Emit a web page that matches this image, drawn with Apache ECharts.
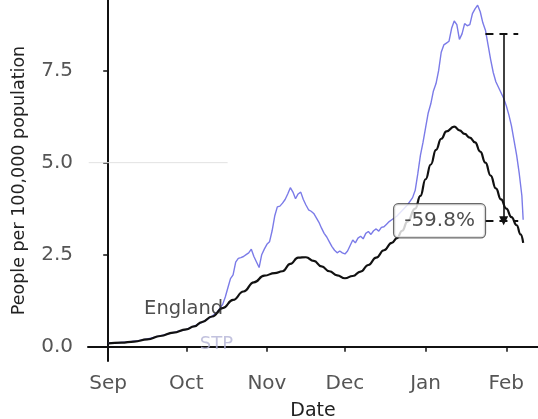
<!DOCTYPE html>
<html>
<head>
<meta charset="utf-8">
<script src="https://cdn.jsdelivr.net/npm/echarts@6/dist/echarts.min.js"></script>
<style>
html,body{margin:0;padding:0;background:#fff;}
#c{width:538px;height:419px;}
</style>
</head>
<body>
<div id="c"></div>
<script>
// Days counted from 1 September
const tickDays = [0, 30, 61, 91, 122, 153];
const tickLabels = ['Sep', 'Oct', 'Nov', 'Dec', 'Jan', 'Feb'];
const yTicks = [0, 2.5, 5, 7.5];

const englandDays = [0, 5, 10, 15, 20, 25, 30, 33, 36, 40, 44, 48, 52, 56, 60, 64, 67, 70, 73, 76, 79, 82, 85, 88, 91, 94, 97, 100, 103, 106, 109, 111, 113, 115, 118, 120, 122, 124, 126, 128, 130, 133, 135, 137, 139, 141, 143, 145, 147, 149, 151, 153, 155, 157, 158.5, 159.5];
const englandValues = [0.09, 0.11, 0.14, 0.2, 0.29, 0.38, 0.47, 0.55, 0.67, 0.82, 1.05, 1.27, 1.5, 1.75, 1.93, 2.0, 2.05, 2.25, 2.42, 2.43, 2.33, 2.18, 2.05, 1.94, 1.86, 1.92, 2.04, 2.22, 2.42, 2.62, 2.82, 2.95, 3.15, 3.4, 3.75, 4.1, 4.55, 4.95, 5.35, 5.65, 5.85, 5.98, 5.88, 5.78, 5.68, 5.55, 5.3, 5.0, 4.65, 4.3, 4.0, 3.75, 3.52, 3.3, 3.05, 2.82];

const stpDays = [0, 3, 6, 9, 12, 15, 18, 21, 24, 27, 30, 33, 36, 39, 42, 44, 45, 46, 47, 48, 49, 50, 51, 52, 53, 54, 55, 56, 57, 58, 59, 60, 61, 62, 63, 64, 65, 66, 67, 68, 69, 70, 71, 72, 73, 74, 75, 76, 77, 78, 79, 80, 81, 82, 83, 84, 85, 86, 87, 88, 89, 90, 91, 92, 93, 94, 95, 96, 97, 98, 99, 100, 101, 102, 103, 104, 105, 106, 107, 108, 109, 111, 113, 115, 117, 118, 119, 120, 121, 122, 123, 124, 125, 126, 127, 128, 129, 130, 131, 132, 133, 134, 135, 136, 137, 138, 139, 140, 141, 142, 143, 144, 145, 146, 147, 148, 149, 150, 151, 152, 153, 154, 155, 156, 157, 158, 159, 159.5];
const stpValues = [0.10, 0.10, 0.12, 0.14, 0.17, 0.21, 0.26, 0.31, 0.36, 0.42, 0.47, 0.56, 0.66, 0.78, 0.95, 1.15, 1.35, 1.6, 1.85, 1.95, 2.3, 2.4, 2.42, 2.45, 2.5, 2.55, 2.65, 2.45, 2.3, 2.15, 2.5, 2.65, 2.78, 2.85, 3.15, 3.55, 3.8, 3.82, 3.9, 4.0, 4.15, 4.32, 4.2, 4.02, 4.15, 4.2, 4.0, 3.85, 3.72, 3.68, 3.62, 3.5, 3.38, 3.22, 3.08, 2.98, 2.85, 2.72, 2.62, 2.55, 2.6, 2.55, 2.52, 2.6, 2.75, 2.9, 2.82, 2.95, 3.0, 2.93, 3.08, 3.13, 3.05, 3.15, 3.2, 3.14, 3.24, 3.26, 3.33, 3.4, 3.45, 3.55, 3.7, 3.85, 4.05, 4.25, 4.7, 5.2, 5.55, 5.95, 6.35, 6.6, 6.95, 7.15, 7.5, 8.0, 8.2, 8.25, 8.3, 8.65, 8.85, 8.75, 8.35, 8.5, 8.78, 8.72, 8.75, 9.05, 9.18, 9.28, 9.1, 8.8, 8.6, 8.2, 7.8, 7.45, 7.2, 7.05, 6.9, 6.75, 6.55, 6.3, 6.0, 5.6, 5.2, 4.7, 4.1, 3.45];

// Annotation (data space)
const peakValue = 8.5;
const endValue = 3.42;
const arrowDay = 152;
const dashDays = [145, 157.6];
const labelDay = 144.8;
const changeText = (((endValue - peakValue) / peakValue) * 100).toFixed(1) + '%';

// Series name labels (data space)
const englandLabelPos = [29, 1.02];
const stpLabelPos = [41.6, 0.07];

// faint line at 5.0
const faintLineDays = [-7.5, 45.9];
const faintLineValue = 5.0;

const FONT = 'DejaVu Sans';
const chart = echarts.init(document.getElementById('c'), null, {renderer: 'canvas'});

const zip = (xs, ys) => xs.map((x, i) => [x, ys[i]]);

chart.setOption({
  animation: false,
  backgroundColor: '#ffffff',
  grid: {left: 88, right: 0, top: 0, bottom: 58, containLabel: false, outerBoundsMode: 'none'},
  xAxis: {
    type: 'value',
    min: -7.77,
    max: 165.2,
    name: 'Date',
    nameLocation: 'middle',
    nameGap: 41,
    nameTextStyle: {fontFamily: FONT, fontSize: 19, color: '#222'},
    axisLine: {show: true, lineStyle: {color: '#111', width: 2}},
    axisTick: {show: true, customValues: tickDays, length: 5, lineStyle: {color: '#111', width: 1.5}},
    axisLabel: {
      customValues: tickDays,
      margin: 13,
      fontFamily: FONT, fontSize: 20, color: '#555',
      formatter: v => tickLabels[tickDays.indexOf(v)] || ''
    },
    splitLine: {show: false}
  },
  yAxis: {
    type: 'value',
    min: -0.389,
    max: 9.42,
    name: 'People per 100,000 population',
    nameLocation: 'middle',
    nameGap: 60,
    nameRotate: 90,
    nameTextStyle: {fontFamily: FONT, fontSize: 17.5, color: '#222'},
    axisLine: {show: true, lineStyle: {color: '#111', width: 2}},
    axisTick: {show: true, customValues: yTicks, length: 5, lineStyle: {color: '#111', width: 1.5}},
    axisLabel: {
      customValues: yTicks,
      margin: 15,
      fontFamily: FONT, fontSize: 20, color: '#555',
      formatter: v => v.toFixed(1)
    },
    splitLine: {show: false}
  },
  series: [
    {
      name: 'faint', type: 'line', silent: true, symbol: 'none',
      data: faintLineDays.map(d => [d, faintLineValue]),
      lineStyle: {color: '#e2e2e2', width: 1}, z: 1
    },
    {
      name: 'STP', type: 'line', symbol: 'none', smooth: false,
      data: zip(stpDays, stpValues),
      lineStyle: {color: '#7b7be8', width: 1.4}, z: 2
    },
    {
      name: 'England', type: 'line', symbol: 'none', smooth: true, smoothMonotone: 'x',
      data: zip(englandDays, englandValues),
      lineStyle: {color: '#111111', width: 2.2}, z: 3
    },
    {
      name: 'annot', type: 'line', symbol: 'none', silent: true, data: [], z: 4,
      markLine: {
        silent: true, animation: false,
        label: {show: false},
        data: [
          [{coord: [dashDays[0], peakValue], symbol: 'none'}, {coord: [dashDays[1], peakValue], symbol: 'none', lineStyle: {type: [8, 6], width: 2, color: '#111'}}],
          [{coord: [dashDays[0], endValue], symbol: 'none'}, {coord: [dashDays[1], endValue], symbol: 'none', lineStyle: {type: [8, 6], width: 2, color: '#111'}}],
          [{coord: [arrowDay, peakValue], symbol: 'none'}, {coord: [arrowDay, endValue], symbol: 'triangle', symbolSize: [9, 9], symbolRotate: 180, lineStyle: {type: 'solid', width: 1.6, color: '#111'}}]
        ],
        lineStyle: {color: '#111'}
      }
    },
    {
      name: 'box', type: 'scatter', silent: true, symbolSize: 0, z: 10,
      data: [[labelDay, endValue]],
      label: {
        show: true, position: 'left', distance: 0,
        formatter: changeText,
        fontFamily: FONT, fontSize: 20, color: '#222',
        backgroundColor: '#fff', borderColor: '#444', borderWidth: 1.2, borderRadius: 4,
        padding: [7, 10, 6, 10]
      }
    },
    {
      name: 'names', type: 'scatter', silent: true, symbolSize: 0, z: 6,
      data: [
        {value: englandLabelPos, label: {formatter: 'England', color: '#222', fontSize: 19.5}},
        {value: stpLabelPos, label: {formatter: 'STP', color: '#b3b3d6', fontSize: 18}}
      ],
      label: {show: true, position: 'inside', fontFamily: FONT}
    }
  ]
});
</script>
</body>
</html>
